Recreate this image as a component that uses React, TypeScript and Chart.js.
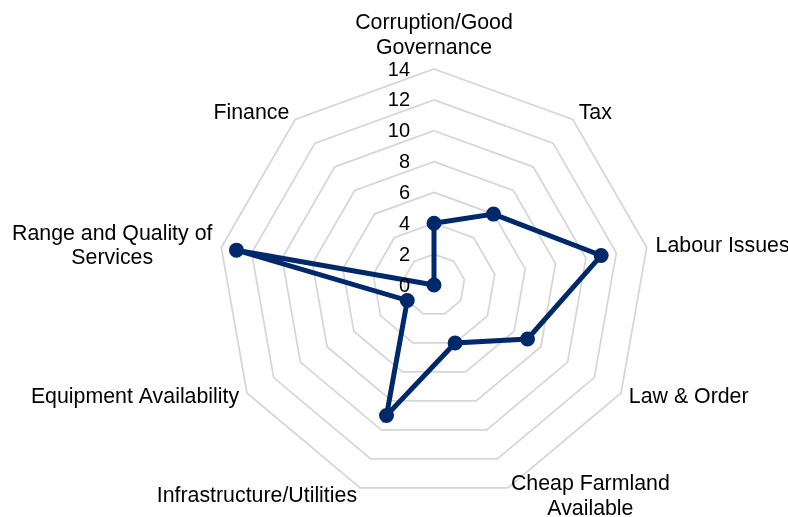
import React, { useEffect, useRef } from "react";
import { Chart, registerables } from "chart.js";

Chart.register(...registerables);

const categories: (string | string[])[] = [
  ["Corruption/Good", "Governance"],
  "Tax",
  "Labour Issues",
  "Law & Order",
  ["Cheap Farmland", "Available"],
  "Infrastructure/Utilities",
  "Equipment Availability",
  ["Range and Quality of", "Services"],
  "Finance",
];

const seriesValues: number[] = [4, 6, 11, 7, 4, 9, 2, 13, 0];

const axisMin = 0;
const axisMax = 14;
const axisStep = 2;

const FONT_FAMILY = '"Liberation Sans", Arial, sans-serif';
const LINE_COLOR = "#00296b";
const GRID_COLOR = "#d6d6d6";
const TEXT_COLOR = "#000000";

const labelPlugin = {
  id: "customLabels",
  afterDatasetsDraw(chart: any) {
    const scale = chart.scales.r;
    const ctx = chart.ctx;
    ctx.save();
    // tick labels
    ctx.font = `20px ${FONT_FAMILY}`;
    ctx.fillStyle = TEXT_COLOR;
    ctx.textAlign = "right";
    ctx.textBaseline = "middle";
    scale.ticks.forEach((t: any) => {
      const d = scale.getDistanceFromCenterForValue(t.value);
      ctx.fillText(String(t.value), scale.xCenter - 24, scale.yCenter - d + 1);
    });
    // point labels
    const R = scale.drawingArea;
    const lh = 24.5;
    ctx.font = `21.33px ${FONT_FAMILY}`;
    categories.forEach((lbl, i) => {
      const lines = Array.isArray(lbl) ? lbl : [lbl];
      const p = scale.getPointPosition(i, R + 9);
      const a = scale.getIndexAngle(i);
      const s = Math.sin(a);
      const c = Math.cos(a);
      const w = Math.max(...lines.map((l) => ctx.measureText(l).width));
      const h = lines.length * lh;
      let left: number;
      if (Math.abs(s) < 0.05) left = p.x - w / 2;
      else if (s > 0) left = p.x;
      else left = p.x - w;
      let top: number;
      if (c > 0.95) top = p.y - h;
      else if (c < -0.95) top = p.y;
      else top = p.y - h / 2;
      ctx.textAlign = "center";
      ctx.textBaseline = "middle";
      lines.forEach((l, j) => {
        ctx.fillText(l, left + w / 2, top + lh * (j + 0.5));
      });
    });
    ctx.restore();
  },
};

export default function App() {
  const ref = useRef<HTMLCanvasElement | null>(null);
  useEffect(() => {
    if (!ref.current) return;
    const chart = new Chart(ref.current, {
      type: "radar",
      data: {
        labels: categories,
        datasets: [
          {
            data: seriesValues,
            borderColor: LINE_COLOR,
            backgroundColor: LINE_COLOR,
            borderWidth: 5,
            fill: false,
            pointRadius: 6.5,
            pointBorderWidth: 2,
            pointBackgroundColor: LINE_COLOR,
            pointBorderColor: LINE_COLOR,
            tension: 0,
          },
        ],
      },
      options: {
        responsive: false,
        animation: false,
        layout: { padding: { left: 134, right: 54, top: 69, bottom: 16 } },
        plugins: { legend: { display: false }, tooltip: { enabled: false } },
        scales: {
          r: {
            min: axisMin,
            max: axisMax,
            beginAtZero: true,
            ticks: { display: false, stepSize: axisStep },
            grid: { color: GRID_COLOR, lineWidth: 1.75 },
            angleLines: { display: false },
            pointLabels: { display: false },
          },
        },
      },
      plugins: [labelPlugin],
    });
    return () => chart.destroy();
  }, []);
  return (
    <div style={{ position: "absolute", left: 0, top: 0, width: 788, height: 517, background: "#fff" }}>
      <canvas ref={ref} width={788} height={517} style={{ display: "block" }} />
    </div>
  );
}
